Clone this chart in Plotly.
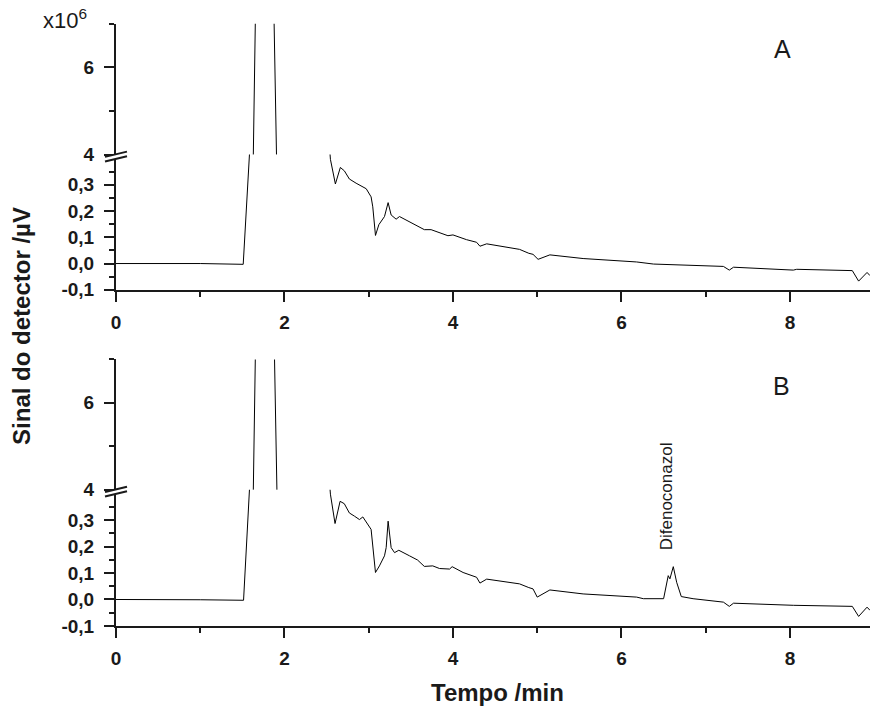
import plotly.graph_objects as go

# ---------------- data ----------------
# Chromatogram A (signal in µV; the solvent peak is in the x10^6 range)
time_A = [0.0, 0.5, 1.0, 1.51, 1.585, 1.63, 1.655, 1.76, 1.875, 1.905, 2.54,
          2.545, 2.604, 2.663, 2.711, 2.77, 2.85, 2.92, 2.97, 3.028, 3.048,
          3.08, 3.12, 3.187, 3.23, 3.266, 3.325, 3.365, 3.50, 3.66, 3.74,
          3.94, 4.0, 4.16, 4.28, 4.32, 4.40, 4.59, 4.79, 4.90, 4.95, 5.01,
          5.15, 5.545, 6.18, 6.38, 7.21, 7.28, 7.33, 8.04, 8.08, 8.74,
          8.815, 8.915, 8.95]
signal_A = [0.0, 0.001, 0.0, -0.003, 0.42, 4.0e6, 7.2e6, 9.0e6, 7.2e6, 4.0e6, 0.42,
            0.397, 0.303, 0.366, 0.353, 0.322, 0.306, 0.295, 0.285, 0.254, 0.216,
            0.107, 0.148, 0.179, 0.232, 0.185, 0.169, 0.179, 0.156, 0.129, 0.129,
            0.106, 0.109, 0.091, 0.081, 0.066, 0.075, 0.066, 0.054, 0.039, 0.035, 0.016,
            0.033, 0.019, 0.006, -0.002, -0.011, -0.025, -0.014, -0.025, -0.022, -0.027,
            -0.067, -0.034, -0.046]

# Chromatogram B (with Difenoconazol peak)
time_B = [0.0, 0.5, 1.0, 1.514, 1.585, 1.63, 1.655, 1.76, 1.88, 1.91, 2.54,
          2.545, 2.60, 2.66, 2.71, 2.77, 2.83, 2.89, 2.93, 2.976, 3.028,
          3.08, 3.127, 3.187, 3.207, 3.23, 3.266, 3.306, 3.357, 3.484, 3.58,
          3.66, 3.76, 3.84, 3.96, 3.99, 4.12, 4.28, 4.32, 4.40, 4.63,
          4.79, 4.90, 4.95, 5.0, 5.15, 5.545, 6.18, 6.26, 6.50, 6.555,
          6.575, 6.615, 6.655, 6.71, 6.85, 7.21, 7.28, 7.33, 8.04, 8.74,
          8.815, 8.915, 8.95]
signal_B = [0.0, 0.0, -0.001, -0.003, 0.42, 4.0e6, 7.2e6, 9.0e6, 7.2e6, 4.0e6, 0.42,
            0.398, 0.287, 0.371, 0.362, 0.327, 0.315, 0.302, 0.312, 0.29, 0.265,
            0.102, 0.127, 0.165, 0.196, 0.296, 0.196, 0.177, 0.186, 0.165, 0.149,
            0.125, 0.127, 0.117, 0.115, 0.124, 0.102, 0.084, 0.062, 0.077, 0.067,
            0.059, 0.045, 0.040, 0.009, 0.036, 0.021, 0.009, 0.003, 0.003, 0.09,
            0.078, 0.124, 0.065, 0.011, 0.003, -0.010, -0.026, -0.014, -0.022, -0.026,
            -0.064, -0.029, -0.041]

x_ticks = [0, 2, 4, 6, 8]
low_ticks = [-0.1, 0.0, 0.1, 0.2, 0.3]
low_labels = ["-0,1", "0,0", "0,1", "0,2", "0,3"]
high_ticks = [4e6, 6e6]
high_labels = ["4", "6"]

# ---------------- layout geometry ----------------
W, H = 870, 717
ML = 116
PW = W - ML


def py(p):  # pixel row -> paper y
    return 1 - p / H


def px(p):  # pixel column -> paper x
    return (p - ML) / PW


FONT = "Liberation Sans, Arial, Helvetica, sans-serif"
INK = "#1a1a1a"
line = dict(color="black", width=1)

fig = go.Figure()
for t, s, xa, ylo, yhi in [(time_A, signal_A, "x", "y", "y2"),
                           (time_B, signal_B, "x2", "y3", "y4")]:
    fig.add_trace(go.Scatter(x=t, y=s, mode="lines", line=line,
                             xaxis=xa, yaxis=ylo, showlegend=False))
    fig.add_trace(go.Scatter(x=t, y=s, mode="lines", line=line,
                             xaxis=xa, yaxis=yhi, showlegend=False))

tickfont = dict(family=FONT, size=19, color=INK, weight="bold")
common_axis = dict(showline=True, linewidth=2, linecolor=INK, ticks="outside",
                   ticklen=10, tickwidth=2, tickcolor=INK, showgrid=False,
                   zeroline=False, tickfont=tickfont)

xax = dict(range=[0, 8.95], domain=[0, 1], tickmode="array", tickvals=x_ticks,
           ticktext=[str(v) for v in x_ticks], ticklabelstandoff=4,
           minor=dict(dtick=1, tick0=0, ticklen=5, tickwidth=2, tickcolor=INK,
                      ticks="outside"), **common_axis)

low_minor = dict(dtick=0.05, tick0=0, ticklen=5, tickwidth=2, tickcolor=INK,
                 ticks="outside")
high_minor = dict(dtick=1e6, tick0=0, ticklen=5, tickwidth=2, tickcolor=INK,
                  ticks="outside")

A_top, A_brk, A_bot = 24, 157, 294.3
B_top, B_brk, B_bot = 365, 497.3, 635.7

fig.update_layout(
    width=W, height=H,
    margin=dict(l=ML, r=0, t=0, b=0),
    paper_bgcolor="white", plot_bgcolor="white",
    font=dict(family=FONT),
    xaxis=dict(anchor="y", **xax),
    xaxis2=dict(anchor="y3", **xax),
    yaxis=dict(anchor="x", domain=[py(A_bot), py(A_brk)], range=[-0.1, 0.415],
               tickmode="array", tickvals=low_ticks, ticktext=low_labels,
               ticklabelstandoff=6, minor=low_minor, **common_axis),
    yaxis2=dict(anchor="x", domain=[py(A_brk), py(A_top)], range=[4e6, 7e6],
                tickmode="array", tickvals=high_ticks, ticktext=high_labels,
                ticklabelstandoff=6, minor=high_minor, **common_axis),
    yaxis3=dict(anchor="x2", domain=[py(B_bot), py(B_brk)], range=[-0.1, 0.415],
                tickmode="array", tickvals=low_ticks, ticktext=low_labels,
                ticklabelstandoff=6, minor=low_minor, **common_axis),
    yaxis4=dict(anchor="x2", domain=[py(B_brk), py(B_top)], range=[4e6, 7e6],
                tickmode="array", tickvals=high_ticks, ticktext=high_labels,
                ticklabelstandoff=6, minor=high_minor, **common_axis),
)

# axis break marks
shapes = []
for yb in (A_brk, B_brk):
    x0, x1 = px(105), px(127)
    path = (f"M {x0} {py(yb + 2.3)} L {x1} {py(yb - 3)} "
            f"L {x1} {py(yb + 1.7)} L {x0} {py(yb + 7)} Z")
    shapes.append(dict(type="path", xref="paper", yref="paper", path=path,
                       fillcolor="white", line=dict(width=0), layer="above"))
    shapes.append(dict(type="line", xref="paper", yref="paper",
                       x0=x0, y0=py(yb + 2.3), x1=x1, y1=py(yb - 3),
                       line=dict(color=INK, width=2), layer="above"))
    shapes.append(dict(type="line", xref="paper", yref="paper",
                       x0=x0, y0=py(yb + 7), x1=x1, y1=py(yb + 1.7),
                       line=dict(color=INK, width=2), layer="above"))
fig.update_layout(shapes=shapes)

ann = [
    dict(text="x10<sup>6</sup>", x=px(89), y=py(36), xanchor="right", yanchor="bottom",
         font=dict(family=FONT, size=22, color=INK)),
    dict(text="A", x=px(782), y=py(50), xanchor="center", yanchor="middle",
         font=dict(family=FONT, size=25, color=INK)),
    dict(text="B", x=px(781), y=py(392), xanchor="center", yanchor="middle",
         font=dict(family=FONT, size=25, color=INK)),
    dict(text="Difenoconazol", x=px(666), y=py(504), xanchor="center", yanchor="middle",
         textangle=-90, font=dict(family=FONT, size=17, color=INK)),
    dict(text="<b>Tempo /min</b>", x=px(497), y=py(703), xanchor="center", yanchor="middle",
         font=dict(family=FONT, size=24, color=INK)),
    dict(text="<b>Sinal do detector /µV</b>", x=px(22), y=py(331), xanchor="center",
         yanchor="middle", textangle=-90, font=dict(family=FONT, size=24, color=INK)),
]
for a in ann:
    a.update(xref="paper", yref="paper", showarrow=False)
fig.update_layout(annotations=ann)

fig.write_html("out.html")
